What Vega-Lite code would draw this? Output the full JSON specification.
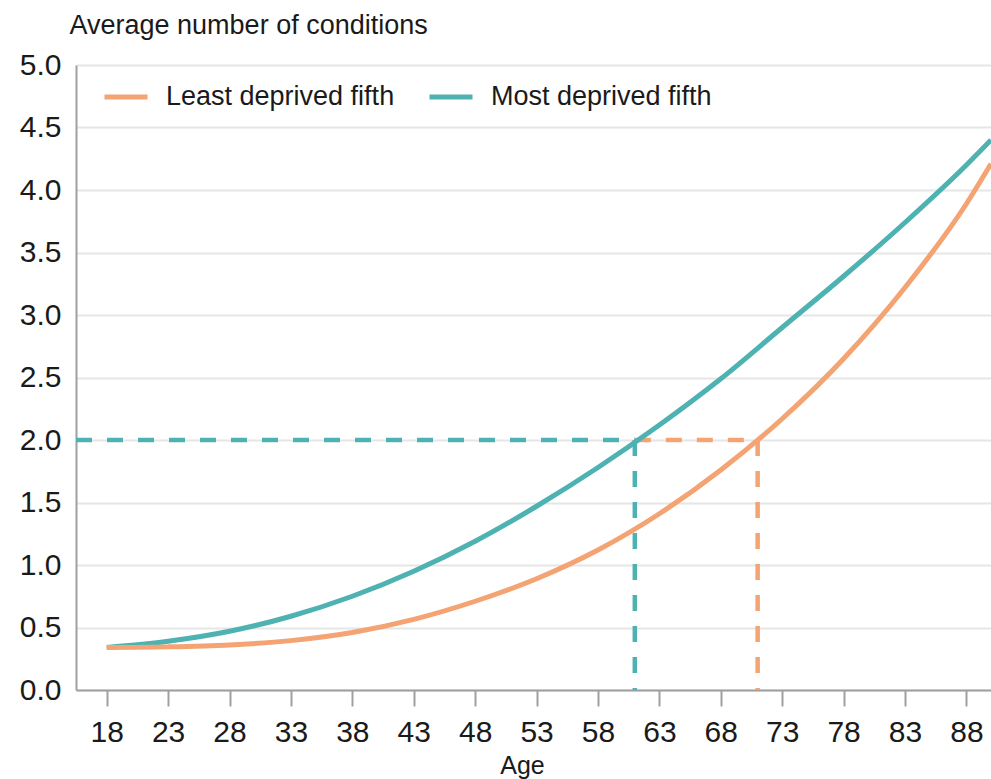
{
  "$schema": "https://vega.github.io/schema/vega-lite/v6.json",
  "width": 915,
  "height": 625,
  "autosize": "none",
  "padding": {"left": 76, "top": 65, "right": 0, "bottom": 89},
  "background": "white",
  "config": {"font": "Liberation Sans", "view": {"stroke": null}},
  "datasets": {
    "curves": [
      {"group": "Most deprived fifth", "age": 18, "value": 0.34},
      {"group": "Most deprived fifth", "age": 23, "value": 0.39},
      {"group": "Most deprived fifth", "age": 28, "value": 0.47},
      {"group": "Most deprived fifth", "age": 33, "value": 0.59},
      {"group": "Most deprived fifth", "age": 38, "value": 0.75},
      {"group": "Most deprived fifth", "age": 43, "value": 0.95},
      {"group": "Most deprived fifth", "age": 48, "value": 1.19},
      {"group": "Most deprived fifth", "age": 53, "value": 1.47},
      {"group": "Most deprived fifth", "age": 58, "value": 1.78},
      {"group": "Most deprived fifth", "age": 63, "value": 2.12},
      {"group": "Most deprived fifth", "age": 68, "value": 2.49},
      {"group": "Most deprived fifth", "age": 73, "value": 2.9},
      {"group": "Most deprived fifth", "age": 78, "value": 3.31},
      {"group": "Most deprived fifth", "age": 83, "value": 3.74},
      {"group": "Most deprived fifth", "age": 88, "value": 4.2},
      {"group": "Most deprived fifth", "age": 90, "value": 4.4},
      {"group": "Least deprived fifth", "age": 18, "value": 0.34},
      {"group": "Least deprived fifth", "age": 23, "value": 0.345},
      {"group": "Least deprived fifth", "age": 28, "value": 0.36},
      {"group": "Least deprived fifth", "age": 33, "value": 0.395},
      {"group": "Least deprived fifth", "age": 38, "value": 0.46},
      {"group": "Least deprived fifth", "age": 43, "value": 0.565},
      {"group": "Least deprived fifth", "age": 48, "value": 0.71},
      {"group": "Least deprived fifth", "age": 53, "value": 0.89},
      {"group": "Least deprived fifth", "age": 58, "value": 1.12},
      {"group": "Least deprived fifth", "age": 63, "value": 1.41},
      {"group": "Least deprived fifth", "age": 68, "value": 1.76},
      {"group": "Least deprived fifth", "age": 73, "value": 2.17},
      {"group": "Least deprived fifth", "age": 78, "value": 2.65},
      {"group": "Least deprived fifth", "age": 83, "value": 3.22},
      {"group": "Least deprived fifth", "age": 88, "value": 3.89},
      {"group": "Least deprived fifth", "age": 90, "value": 4.21}
    ],
    "refs": [
      {"group": "Most deprived fifth", "age": 15.5, "age2": 61, "value": 2, "value2": 2},
      {"group": "Most deprived fifth", "age": 61, "age2": 61, "value": 2, "value2": 0},
      {"group": "Least deprived fifth", "age": 61, "age2": 71, "value": 2, "value2": 2},
      {"group": "Least deprived fifth", "age": 71, "age2": 71, "value": 2, "value2": 0}
    ]
  },
  "encoding": {
    "x": {
      "field": "age",
      "type": "quantitative",
      "scale": {"domain": [15.5, 90], "nice": false, "zero": false},
      "axis": {
        "title": "Age",
        "values": [18, 23, 28, 33, 38, 43, 48, 53, 58, 63, 68, 73, 78, 83, 88],
        "grid": false,
        "labelFontSize": 30,
        "labelColor": "#1a1a1a",
        "labelPadding": 11,
        "tickSize": 16,
        "tickColor": "#a0a0a0",
        "tickWidth": 2,
        "domainColor": "#a0a0a0",
        "domainWidth": 2,
        "titleFontSize": 25,
        "titleFontWeight": "normal",
        "titleColor": "#1a1a1a",
        "titleBaseline": "alphabetic",
        "titleX": 446,
        "titleY": 83
      }
    },
    "y": {
      "field": "value",
      "type": "quantitative",
      "scale": {"domain": [0, 5], "nice": false},
      "axis": {
        "title": "Average number of conditions",
        "titleAngle": 0,
        "titleAlign": "left",
        "titleBaseline": "alphabetic",
        "titleX": -7,
        "titleY": -32,
        "titleFontSize": 27,
        "titleFontWeight": "normal",
        "titleColor": "#1a1a1a",
        "values": [0, 0.5, 1, 1.5, 2, 2.5, 3, 3.5, 4, 4.5, 5],
        "format": ".1f",
        "labelFontSize": 30,
        "labelColor": "#1a1a1a",
        "labelPadding": 15,
        "ticks": false,
        "domainColor": "#a0a0a0",
        "domainWidth": 2,
        "gridColor": "#e6e6e6",
        "gridWidth": 2
      }
    },
    "color": {
      "field": "group",
      "type": "nominal",
      "scale": {
        "domain": ["Least deprived fifth", "Most deprived fifth"],
        "range": ["#F4A373", "#4FB2B2"]
      },
      "legend": {
        "orient": "none",
        "legendX": 26,
        "legendY": 8,
        "direction": "horizontal",
        "title": null,
        "symbolType": "stroke",
        "symbolSize": 1849,
        "symbolStrokeWidth": 5,
        "symbolDash": [1000, 0],
        "labelFontSize": 27,
        "labelLimit": 0,
        "labelColor": "#1a1a1a",
        "labelOffset": 16,
        "columnPadding": 24
      }
    }
  },
  "layer": [
    {
      "data": {"name": "refs"},
      "mark": {"type": "rule", "strokeDash": [16, 15], "strokeWidth": 4.5},
      "encoding": {
        "x2": {"field": "age2"},
        "y2": {"field": "value2"}
      }
    },
    {
      "data": {"name": "curves"},
      "mark": {"type": "line", "strokeWidth": 5, "interpolate": "monotone"}
    }
  ]
}
